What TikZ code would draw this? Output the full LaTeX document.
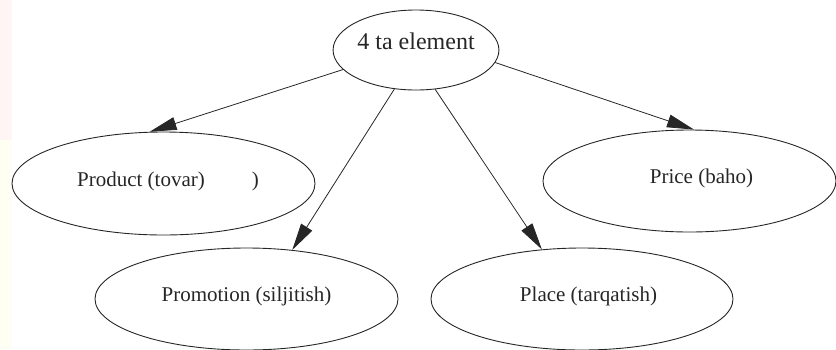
\documentclass[tikz,border=0pt]{standalone}
\usepackage{fontspec}
\setmainfont{Liberation Serif}
\usetikzlibrary{shapes.geometric,arrows.meta}
\begin{document}
\begin{tikzpicture}[x=1pt,y=-1pt,
  oval/.style={ellipse,draw=black!85,line width=0.9pt,inner sep=0pt,
    font=\fontsize{21}{21}\selectfont,text=black!85,
    minimum width=302pt,minimum height=102pt,text depth=9pt},
  topoval/.style={oval,font=\fontsize{24}{24}\selectfont,
    minimum width=164pt,minimum height=80pt,text depth=18.4pt},
  link/.style={draw=black!85,line width=0.8pt,
    -{Triangle[length=27pt,width=13pt]}}]
\useasboundingbox (0,0) rectangle (836,349);
\fill[red!4] (0,0) rectangle (12,140);
\fill[yellow!5] (0,140) rectangle (12,349);
\node[topoval] (top) at (416,50) {4 ta element};
\node[oval,minimum width=303pt,minimum height=103pt] (product) at (163.5,183.5)
  {\hspace*{9pt}Product (tovar)\hspace{47pt})};
\node[oval,minimum width=293pt] (price) at (689.5,181)
  {\hspace*{24pt}Price (baho)};
\node[oval,minimum width=303pt] (promotion) at (246.5,299)
  {Promotion (siljitish)};
\node[oval] (place) at (582,299)
  {\hspace*{13pt}Place (tarqatish)};
\draw[link] (top.195) -- (product.105);
\draw[link] (top.241) -- (promotion.47);
\draw[link] (top.296.6) -- (place.129.6);
\draw[link] (top.351.6) -- (price.85.8);
\end{tikzpicture}
\end{document}
